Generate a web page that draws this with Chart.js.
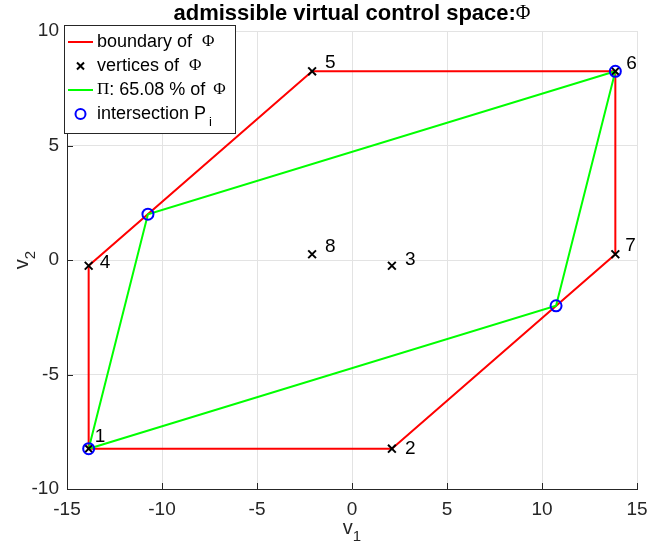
<!DOCTYPE html>
<html>
<head>
<meta charset="utf-8">
<script src="https://cdn.jsdelivr.net/npm/chart.js@4/dist/chart.umd.min.js"></script>
<style>
  html, body { margin: 0; padding: 0; background: #fff; }
  #wrap { width: 666px; height: 549px; }
</style>
</head>
<body>
<div id="wrap"><canvas id="phi-chart" width="666" height="549"></canvas></div>
<script>
// vertices of Phi (numbered 1..8)
const vertexLabels = ['1', '2', '3', '4', '5', '6', '7', '8'];
const vertexX = [-13.86, 2.1, 2.1, -13.86, -2.1, 13.86, 13.86, -2.1];
const vertexY = [-8.24, -8.24, -0.25, -0.25, 8.24, 8.24, 0.25, 0.25];

// boundary of Phi goes 1-2-7-6-5-4-1
const boundaryX = [-13.86, 2.1, 13.86, 13.86, -2.1, -13.86, -13.86];
const boundaryY = [-8.24, -8.24, 0.25, 8.24, 8.24, -0.25, -8.24];

// Pi polygon (65.08 % of Phi)
const innerX = [-13.86, 10.74, 13.86, -10.74, -13.86];
const innerY = [-8.24, -2.0, 8.24, 2.0, -8.24];

// intersections P_i
const intersectX = [-13.86, 10.74, 13.86, -10.74];
const intersectY = [-8.24, -2.0, 8.24, 2.0];

const xTicks = [-15, -10, -5, 0, 5, 10, 15];
const yTicks = [-10, -5, 0, 5, 10];

const toPoints = (xs, ys) => xs.map((x, i) => ({ x: x, y: ys[i] }));

const SANS = "'Liberation Sans', Arial, sans-serif";
const SERIF = "'Liberation Serif', 'DejaVu Serif', serif";
const AXIS = '#262626';

// label offsets in pixels, relative to the vertex
const labelShift = [[6, -12], [13, 0], [13, -6], [11, -3], [13, -9], [11, -8], [10, -9], [13, -8]];

function drawRich(ctx, parts, x, y) {
    let cx = x;
    parts.forEach(p => {
        ctx.font = p.font;
        ctx.fillText(p.t, cx, y + (p.dy || 0));
        cx += ctx.measureText(p.t).width + (p.gap || 0);
    });
    return cx;
}

function richWidth(ctx, parts) {
    let w = 0;
    parts.forEach(p => {
        ctx.font = p.font;
        w += ctx.measureText(p.t).width + (p.gap || 0);
    });
    return w;
}

const decorations = {
    id: 'decorations',
    afterDatasetsDraw(chart) {
        const ctx = chart.ctx;
        const xs = chart.scales.x, ys = chart.scales.y;
        const area = chart.chartArea;
        ctx.save();

        // inward ticks
        ctx.strokeStyle = AXIS;
        ctx.lineWidth = 1;
        ctx.beginPath();
        xTicks.forEach(v => {
            const px = Math.round(xs.getPixelForValue(v)) + 0.5;
            ctx.moveTo(px, area.bottom);
            ctx.lineTo(px, area.bottom - 6);
        });
        yTicks.forEach(v => {
            const py = Math.round(ys.getPixelForValue(v)) + 0.5;
            ctx.moveTo(area.left, py);
            ctx.lineTo(area.left + 6, py);
        });
        ctx.stroke();

        // vertex numbers
        ctx.fillStyle = '#000';
        ctx.font = '19px ' + SANS;
        ctx.textAlign = 'left';
        ctx.textBaseline = 'middle';
        vertexLabels.forEach((lab, i) => {
            const px = xs.getPixelForValue(vertexX[i]) + labelShift[i][0];
            const py = ys.getPixelForValue(vertexY[i]) + labelShift[i][1];
            ctx.fillText(lab, px, py);
        });

        // legend
        const lx = 64.5, ly = 25.5, lw = 171, lh = 108;
        ctx.fillStyle = '#fff';
        ctx.fillRect(lx, ly, lw, lh);
        ctx.strokeStyle = AXIS;
        ctx.lineWidth = 1;
        ctx.strokeRect(lx, ly, lw, lh);

        const rows = [42, 66, 90, 114];
        const sx0 = 68, sx1 = 93, tx = 97;
        ctx.lineWidth = 2;
        ctx.strokeStyle = '#ff0000';
        ctx.beginPath(); ctx.moveTo(sx0, rows[0]); ctx.lineTo(sx1, rows[0]); ctx.stroke();
        ctx.strokeStyle = '#00ff00';
        ctx.beginPath(); ctx.moveTo(sx0, rows[2]); ctx.lineTo(sx1, rows[2]); ctx.stroke();
        ctx.strokeStyle = '#000';
        const cxm = (sx0 + sx1) / 2, r = 3.5;
        ctx.beginPath();
        ctx.moveTo(cxm - r, rows[1] - r); ctx.lineTo(cxm + r, rows[1] + r);
        ctx.moveTo(cxm - r, rows[1] + r); ctx.lineTo(cxm + r, rows[1] - r);
        ctx.stroke();
        ctx.strokeStyle = '#0000ff';
        ctx.beginPath(); ctx.arc(cxm, rows[3], 5, 0, Math.PI * 2); ctx.stroke();

        ctx.fillStyle = '#000';
        ctx.textBaseline = 'middle';
        const f = '18px ' + SANS, fs = '17px ' + SERIF;
        drawRich(ctx, [{ t: 'boundary of ', font: f, gap: 5 }, { t: 'Φ', font: fs }], tx, rows[0]);
        drawRich(ctx, [{ t: 'vertices of ', font: f, gap: 5 }, { t: 'Φ', font: fs }], tx, rows[1]);
        drawRich(ctx, [{ t: 'Π', font: fs }, { t: ': 65.08 % of ', font: f, gap: 3 }, { t: 'Φ', font: fs }], tx, rows[2]);
        drawRich(ctx, [{ t: 'intersection P', font: f, gap: 3 }, { t: 'i', font: '13px ' + SANS, dy: 8 }], tx, rows[3]);

        // title
        const titleParts = [{ t: 'admissible virtual control space:', font: 'bold 22px ' + SANS }, { t: 'Φ', font: '20px ' + SERIF }];
        const tcx = (area.left + area.right) / 2;
        drawRich(ctx, titleParts, tcx - richWidth(ctx, titleParts) / 2, 14);

        // axis titles
        ctx.fillStyle = AXIS;
        const v1 = [{ t: 'v', font: '20px ' + SANS }, { t: '1', font: '15px ' + SANS, dy: 9 }];
        drawRich(ctx, v1, tcx - richWidth(ctx, v1) / 2, 528);
        ctx.translate(22, (area.top + area.bottom) / 2);
        ctx.rotate(-Math.PI / 2);
        const v2 = [{ t: 'v', font: '20px ' + SANS }, { t: '2', font: '15px ' + SANS, dy: 9 }];
        drawRich(ctx, v2, -richWidth(ctx, v2) / 2, 0);

        ctx.restore();
    }
};

const ctx = document.getElementById('phi-chart').getContext('2d');
new Chart(ctx, {
    type: 'scatter',
    data: {
        datasets: [{
            label: 'intersection',
            data: toPoints(intersectX, intersectY),
            pointStyle: 'circle',
            pointRadius: 5.5,
            pointBorderWidth: 2,
            pointBorderColor: '#0000ff',
            pointBackgroundColor: 'rgba(0,0,0,0)',
            showLine: false,
            order: 0
        }, {
            label: 'vertices',
            data: toPoints(vertexX, vertexY),
            pointStyle: 'crossRot',
            pointRadius: 5.5,
            pointBorderWidth: 2,
            pointBorderColor: '#000',
            showLine: false,
            order: 1
        }, {
            label: 'Pi',
            data: toPoints(innerX, innerY),
            showLine: true,
            borderColor: '#00ff00',
            borderWidth: 2,
            pointRadius: 0,
            order: 2
        }, {
            label: 'boundary',
            data: toPoints(boundaryX, boundaryY),
            showLine: true,
            borderColor: '#ff0000',
            borderWidth: 2,
            pointRadius: 0,
            order: 3
        }]
    },
    options: {
        responsive: false,
        animation: false,
        layout: { padding: { top: 31, right: 29, left: 0, bottom: 0 } },
        plugins: {
            legend: { display: false },
            tooltip: { enabled: false },
            title: { display: false }
        },
        scales: {
            x: {
                type: 'linear',
                min: -15,
                max: 15,
                afterFit: s => { s.height = 60; },
                afterBuildTicks: s => { s.ticks = xTicks.map(v => ({ value: v })); },
                grid: { color: '#e3e3e3', drawTicks: false },
                border: { display: true, color: AXIS, width: 1 },
                ticks: { color: AXIS, padding: 9, font: { family: SANS, size: 19 } }
            },
            y: {
                type: 'linear',
                min: -10,
                max: 10,
                afterFit: s => { s.width = 67; },
                afterBuildTicks: s => { s.ticks = yTicks.map(v => ({ value: v })); },
                grid: { color: '#e3e3e3', drawTicks: false },
                border: { display: true, color: AXIS, width: 1 },
                ticks: { color: AXIS, padding: 8, font: { family: SANS, size: 19 } }
            }
        }
    },
    plugins: [decorations]
});
</script>
</body>
</html>
